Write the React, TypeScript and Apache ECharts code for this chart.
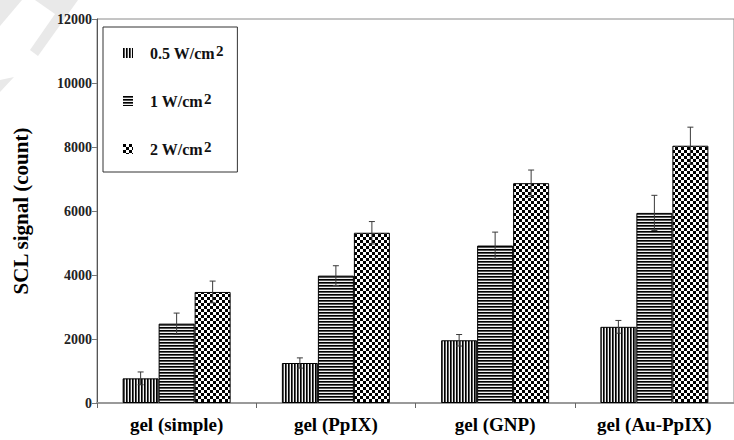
import React, { useEffect, useRef } from "react";
import * as echarts from "echarts";

const categories = ["gel (simple)", "gel (PpIX)", "gel (GNP)", "gel (Au-PpIX)"];
const seriesLabels = ["0.5 W/cm", "1 W/cm", "2 W/cm"];
const seriesNames = ["0.5 W/cm2", "1 W/cm2", "2 W/cm2"];
const values05 = [770, 1250, 1960, 2380];
const values1 = [2480, 3980, 4920, 5940];
const values2 = [3470, 5320, 6870, 8040];
const err05 = [200, 160, 180, 200];
const err1 = [330, 310, 420, 550];
const err2 = [340, 350, 410, 580];
const yMin = 0;
const yMax = 12000;
const yStep = 2000;

const FONT = "Liberation Serif";

function makePattern(kind: string): HTMLCanvasElement {
  const c = document.createElement("canvas");
  const ctx = c.getContext("2d")!;
  if (kind === "v" || kind === "h") {
    c.width = 3;
    c.height = 3;
    const cols = ["#000000", "#555555", "#f2f2f2"];
    for (let i = 0; i < 3; i++) {
      ctx.fillStyle = cols[i];
      if (kind === "v") ctx.fillRect(i, 0, 1, 3);
      else ctx.fillRect(0, i, 3, 1);
    }
  } else {
    c.width = 6;
    c.height = 6;
    ctx.fillStyle = "#ffffff";
    ctx.fillRect(0, 0, 6, 6);
    ctx.fillStyle = "#000000";
    ctx.fillRect(0, 0, 3, 3);
    ctx.fillRect(3, 3, 3, 3);
  }
  return c;
}

export default function App() {
  const ref = useRef<HTMLDivElement>(null);
  useEffect(() => {
    if (!ref.current) return;
    const chart = echarts.init(ref.current, undefined, { renderer: "svg" });
    const patterns = [makePattern("v"), makePattern("h"), makePattern("c")];
    const vals = [values05, values1, values2];
    const errs = [err05, err1, err2];
    const barW = 36;
    const offsets = [-barW, 0, barW];

    const barSeries = vals.map((v, i) => ({
      name: seriesNames[i],
      type: "bar",
      data: v,
      barWidth: barW,
      barGap: "0%",
      itemStyle: {
        color: { image: patterns[i], repeat: "repeat" },
        borderColor: "#000",
        borderWidth: 1,
      },
      z: 2,
    }));

    const errSeries = errs.map((e, i) => ({
      type: "custom",
      name: "err" + i,
      z: 5,
      data: e.map((ev, k) => [k, vals[i][k], ev]),
      renderItem: (params: any, api: any) => {
        const ci = api.value(0);
        const v = api.value(1);
        const ev = api.value(2);
        const top = api.coord([ci, v + ev]);
        const bot = api.coord([ci, v - ev]);
        const x = top[0] + offsets[i];
        const st = { stroke: "#3a3a3a", lineWidth: 1 };
        return {
          type: "group",
          children: [
            { type: "line", shape: { x1: x, y1: top[1], x2: x, y2: bot[1] }, style: st },
            { type: "line", shape: { x1: x - 3, y1: top[1], x2: x + 3, y2: top[1] }, style: st },
            { type: "line", shape: { x1: x - 3, y1: bot[1], x2: x + 3, y2: bot[1] }, style: st },
          ],
        };
      },
    }));

    const option: any = {
      animation: false,
      backgroundColor: "#ffffff",
      textStyle: { fontFamily: FONT },
      graphic: [
        { type: "polygon", z: -10, shape: { points: [[0, 0], [22, 0], [0, 26]] }, style: { fill: "#e9e9e9" } },
        { type: "polygon", z: -10, shape: { points: [[35, 0], [78, 0], [38, 56], [30, 50], [55, 14]] }, style: { fill: "#e9e9e9" } },
        { type: "polygon", z: -10, shape: { points: [[0, 80], [14, 77], [0, 92]] }, style: { fill: "#e9e9e9" } },
      ],
      grid: {
        left: 97,
        top: 19,
        bottom: 37,
        right: -11,
        show: true,
        borderColor: "#8a8a8a",
        borderWidth: 1,
        backgroundColor: "transparent",
      },
      legend: {
        data: seriesNames,
        orient: "vertical",
        left: 103,
        top: 27,
        padding: [16, 14, 15, 20],
        itemGap: 30,
        itemWidth: 10,
        itemHeight: 10,
        icon: "rect",
        borderColor: "#333",
        borderWidth: 1,
        backgroundColor: "#fff",
        itemStyle: { borderWidth: 0 },
        formatter: (name: string) => {
          const idx = seriesNames.indexOf(name);
          return `{t|\u00a0\u00a0\u00a0${seriesLabels[idx]}}{s|2}`;
        },
        textStyle: {
          fontFamily: FONT,
          fontWeight: "bold",
          fontSize: 16,
          color: "#111",
          rich: {
            t: {
              fontFamily: FONT,
              fontWeight: "bold",
              fontSize: 16,
              color: "#111",
              lineHeight: 20,
            },
            s: {
              fontFamily: FONT,
              fontWeight: "bold",
              fontSize: 15,
              color: "#111",
              lineHeight: 8,
              verticalAlign: "top",
              padding: [0, 0, 0, 1],
            },
          },
        },
      },
      xAxis: {
        type: "category",
        data: categories,
        axisLine: { show: true, lineStyle: { color: "#9a9a9a", width: 2 } },
        axisTick: { show: true, length: 5, lineStyle: { color: "#666", width: 1 } },
        axisLabel: {
          fontFamily: FONT,
          fontWeight: "bold",
          fontSize: 19,
          color: "#000",
          margin: 12,
        },
      },
      yAxis: {
        type: "value",
        min: yMin,
        max: yMax,
        interval: yStep,
        name: "SCL signal (count)",
        nameLocation: "middle",
        nameRotate: 90,
        nameGap: 66,
        nameTextStyle: {
          fontFamily: FONT,
          fontWeight: "bold",
          fontSize: 21,
          color: "#000",
        },
        axisLine: { show: true, lineStyle: { color: "#555", width: 1 } },
        axisTick: { show: true, length: 5, lineStyle: { color: "#777" } },
        axisLabel: {
          fontFamily: FONT,
          fontWeight: "bold",
          fontSize: 14,
          color: "#222",
          margin: 5,
          formatter: (v: number) => String(v),
        },
        splitLine: { show: false },
      },
      series: [...barSeries, ...errSeries],
    };
    chart.setOption(option);
    return () => chart.dispose();
  }, []);
  return (
    <div
      ref={ref}
      style={{ position: "fixed", left: 0, top: 0, width: 734, height: 440, background: "#fff" }}
    />
  );
}
